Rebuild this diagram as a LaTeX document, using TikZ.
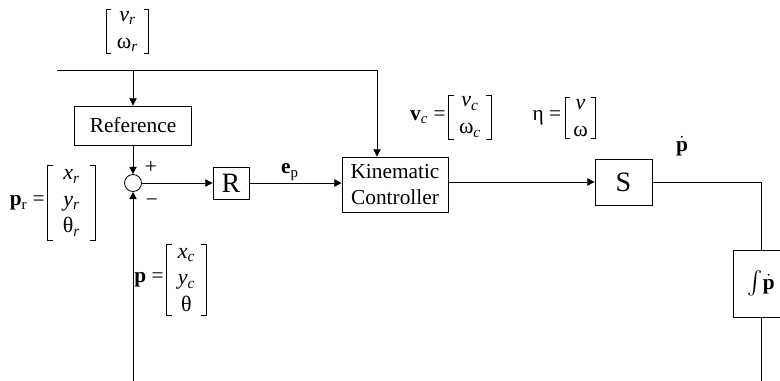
\documentclass[tikz,border=0pt]{standalone}
\usepackage{amsmath}
\usepackage{fontspec}
\setmainfont{Liberation Serif}
\usepackage{tikz}
\usetikzlibrary{arrows.meta}
\usetikzlibrary{calc, positioning}
\tikzstyle{block}=[rectangle, draw, inner sep=0pt, align=center]
\tikzstyle{vec}=[inner xsep=0pt, inner ysep=1pt, align=center, font=\fontsize{16.5}{20}\selectfont]
\tikzstyle{lbl}=[inner sep=0pt, font=\fontsize{16}{18}\selectfont]
\newcommand{\vs}[2]{\textit{#1}\textsubscript{\textit{#2}}}
\newcommand{\brackets}[1]{%
  \draw (#1.north west) ++(5,0) -- (#1.north west) -- (#1.south west) -- ++(5,0);
  \draw (#1.north east) ++(-5,0) -- (#1.north east) -- (#1.south east) -- ++(-5,0);}

\begin{document}
\begin{tikzpicture}[x=0.75pt, y=-0.75pt, line width=0.6pt]

\tikzset{>={Triangle[length=5.5pt, width=5.5pt]}}
\tikzset{every node/.style={font=\fontsize{16}{18}\selectfont}}

\clip (0,0) rectangle (780,381);

% Blocks
\node[block, minimum width=87.75pt, minimum height=29.25pt] (ref) at (133,125.5) {Reference};
\node[circle, draw, inner sep=0pt, minimum size=12.75pt] (sum) at (133,183) {};
\node[block, minimum width=27pt, minimum height=24pt, font=\fontsize{21}{22}\selectfont] (R) at (231,183.5) {R};
\node[block, minimum width=79.5pt, minimum height=41.25pt, font=\fontsize{16}{19}\selectfont] (kin) at (395,184.5) {Kinematic\\Controller};
\node[block, minimum width=42.75pt, minimum height=34.5pt, font=\fontsize{21}{22}\selectfont] (S) at (623.5,182) {S};
\node[block, minimum width=42pt, minimum height=50.25pt] (int) at (761,283.5) {$\int\!\dot{\mathbf{p}}$};

% Vectors
\node[vec, minimum width=31pt] (vr) at (127.5,31.5) {\vs{v}{r}\\ω\textsubscript{\textit{r}}};
\node[vec, minimum width=35pt, inner ysep=2.5pt] (pr) at (71.5,203) {\vs{x}{r}\\\vs{y}{r}\\θ\textsubscript{\textit{r}}};
\node[vec, minimum width=29pt, inner ysep=2.5pt] (pc) at (186.5,280) {\vs{x}{c}\\\vs{y}{c}\\θ};
\node[vec, minimum width=31.5pt] (vc) at (470,117) {\vs{v}{c}\\ω\textsubscript{\textit{c}}};
\node[vec, minimum width=22pt] (eta) at (580.5,118) {\textit{v}\\ω};
\brackets{vr}
\brackets{pr}
\brackets{pc}
\brackets{vc}
\brackets{eta}
\node[left=2pt of pr, inner sep=0pt] (prl) {\textbf{p}\textsubscript{r} =};
\node[left=2pt of pc, inner sep=0pt] (pcl) {\textbf{p} =};
\node[left=2pt of vc, inner sep=0pt] (vcl) {\textbf{v}\textsubscript{\textit{c}} =};
\node[left=3pt of eta, inner sep=0pt] (etal) {η =};

% Labels
\node[lbl] (plus) at (151,167) {+};
\node[lbl] (minus) at (152,203) {−};
\node[lbl] (ep) at (290,172) {\textbf{e}\textsubscript{p}};
\node[lbl] (pdot) at (682,146) {$\dot{\mathbf{p}}$};

% Connectors
\coordinate (start) at (57,70.5);
\coordinate (jkin) at (377,70.5);
\coordinate (pin) at (133,381);
\coordinate (pout) at (761,381);
\draw (start) -- (jkin);
\draw[->] (start -| ref.north) -- (ref.north);
\draw[->] (jkin) -- (jkin |- kin.north);
\draw[->] (ref.south) -- (sum.north);
\draw[->] (pin) -- (sum.south);
\draw[->] (sum.east) -- (R.west |- sum.east);
\draw[->] (R.east |- sum.east) -- (kin.west |- sum.east);
\draw[->] (S.west -| kin.east) -- (S.west);
\draw (S.east) -| (int.north);
\draw (int.south) -- (pout);

\end{tikzpicture}
\end{document}
